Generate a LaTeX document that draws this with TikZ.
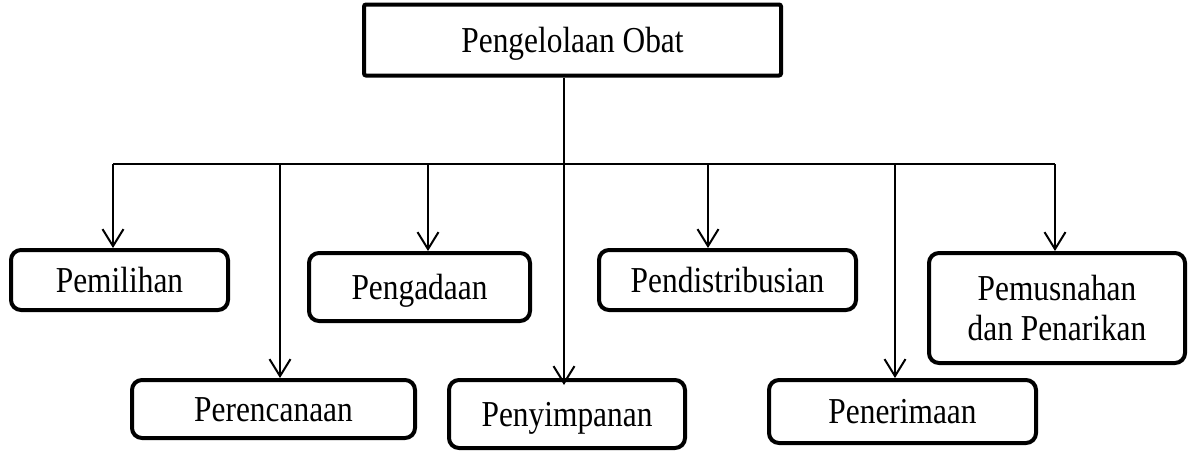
\documentclass[tikz,border=0pt]{standalone}
\usepackage{fontspec}
\setmainfont[FakeStretch=0.86]{Liberation Serif}
\usetikzlibrary{arrows.meta}
\begin{document}
\begin{tikzpicture}[x=1pt,y=-1pt,
  txt/.style={font=\fontsize{36.5}{40}\selectfont},
  topbox/.style={txt,draw,line width=4pt,rounded corners=2pt,minimum width=417pt,minimum height=71pt,inner sep=0pt,text height=24pt,text depth=0pt},
  subbox/.style={txt,draw,line width=4pt,rounded corners=10pt,inner sep=0pt,align=center},
  onel/.style={text height=24pt,text depth=0pt},
  bus/.style={line width=2pt},
  arr/.style={line width=2pt,-{Straight Barb[length=17pt,width=21pt]}}]
\useasboundingbox (0,0) rectangle (1191,450);
\node[topbox] (top) at (572.5,40) {Pengelolaan Obat};
\node[subbox,onel,minimum width=217pt,minimum height=60pt] (pml) at (119.5,280) {Pemilihan};
\node[subbox,onel,minimum width=283pt,minimum height=58pt] (prc) at (273.5,409) {Perencanaan};
\node[subbox,onel,minimum width=221pt,minimum height=68pt] (pgd) at (419.5,287) {Pengadaan};
\node[subbox,onel,minimum width=236pt,minimum height=68pt] (pny) at (567,414) {Penyimpanan};
\node[subbox,onel,minimum width=257pt,minimum height=60pt] (pds) at (727.5,280) {Pendistribusian};
\node[subbox,onel,minimum width=267pt,minimum height=63pt] (prm) at (902.5,411.5) {Penerimaan};
\node[subbox,minimum width=256pt,minimum height=110pt] (pms) at (1057,308) {Pemusnahan\\dan Penarikan};
\coordinate (b1) at (113,164);
\coordinate (b2) at (280,164);
\coordinate (b3) at (428,164);
\coordinate (b4) at (564,164);
\coordinate (b5) at (708,164);
\coordinate (b6) at (895,164);
\coordinate (b7) at (1055,164);
\draw[bus] (top.south -| b4) -- (b4);
\draw[bus] (b1) -- (b7);
\draw[arr] (b1) -- (b1 |- pml.north);
\draw[arr] (b2) -- (b2 |- prc.north);
\draw[arr] (b3) -- (b3 |- pgd.north);
\draw[arr,shorten >=-7pt] (b4) -- (b4 |- pny.north);
\draw[arr] (b5) -- (b5 |- pds.north);
\draw[arr] (b6) -- (b6 |- prm.north);
\draw[arr] (b7) -- (b7 |- pms.north);
\end{tikzpicture}
\end{document}
